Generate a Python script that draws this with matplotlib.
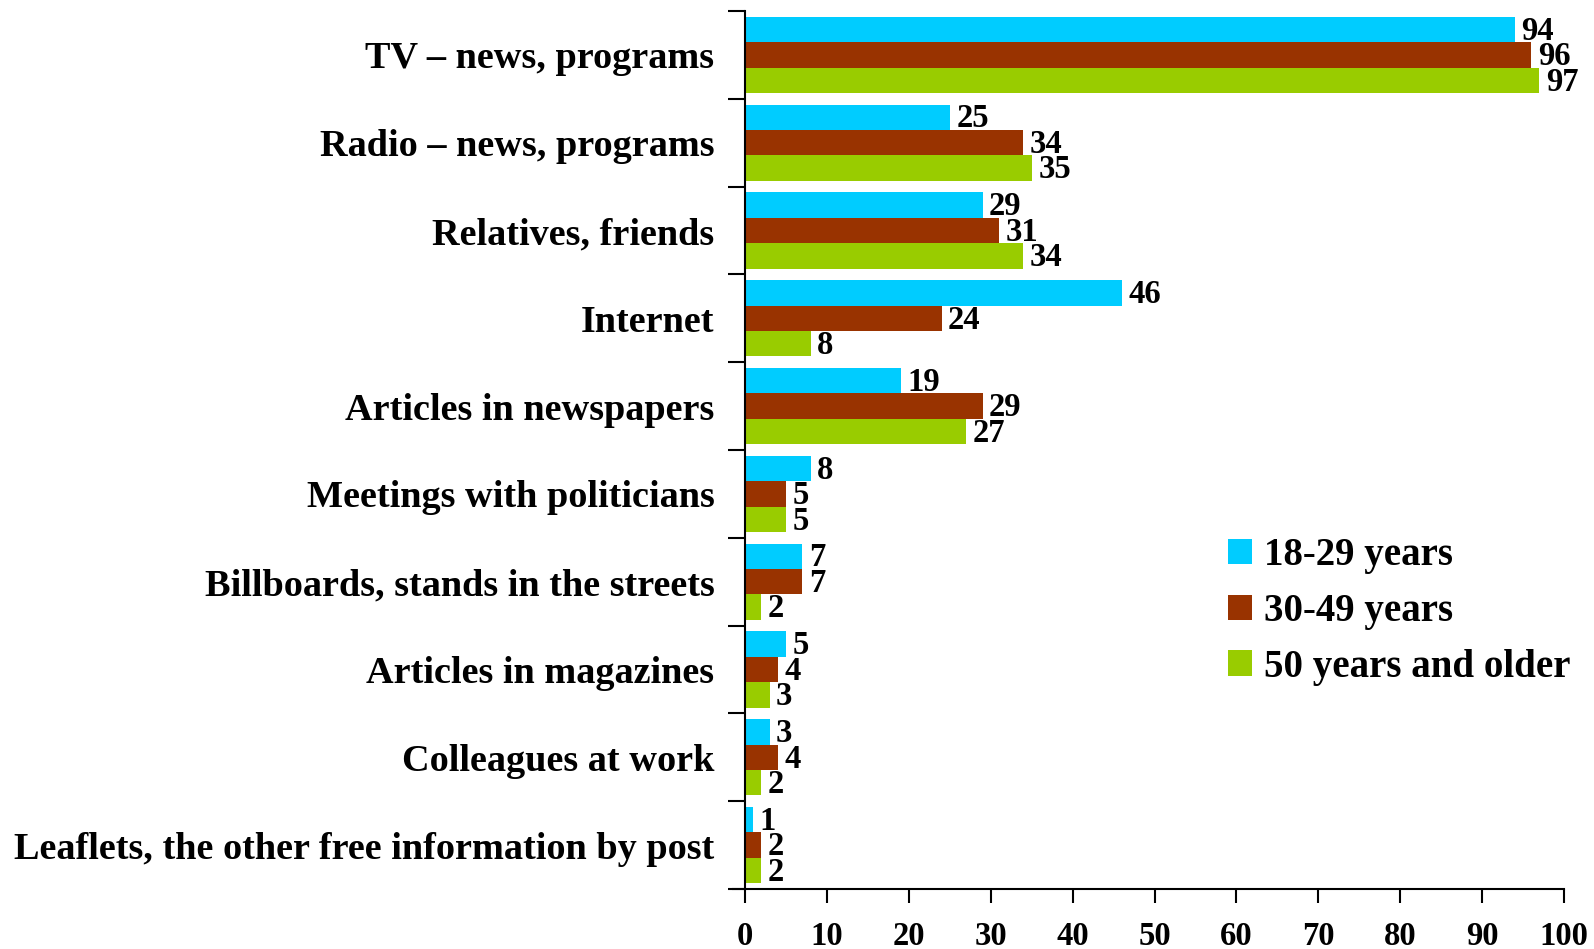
import numpy as np
import matplotlib.pyplot as plt

# ======= Dane =======
categories = [
    "TV \u2013 news, programs",
    "Radio \u2013 news, programs",
    "Relatives, friends",
    "Internet",
    "Articles in newspapers",
    "Meetings with politicians",
    "Billboards, stands in the streets",
    "Articles in magazines",
    "Colleagues at work",
    "Leaflets, the other free information by post",
]
age_18_29 = [94, 25, 29, 46, 19, 8, 7, 5, 3, 1]
age_30_49 = [96, 34, 31, 24, 29, 5, 7, 4, 4, 2]
age_50_up = [97, 35, 34, 8, 27, 5, 2, 3, 2, 2]
series_labels = ["18-29 years", "30-49 years", "50 years and older"]
colors = ["#00CCFF", "#993300", "#99CC00"]

plt.rcParams["font.family"] = ["Liberation Serif", "DejaVu Serif"]
plt.rcParams["font.weight"] = "bold"

fig = plt.figure(figsize=(15.94, 9.49), dpi=100)
ax = fig.add_axes([745 / 1594, 1 - 889 / 949, (1564 - 745) / 1594, (889 - 11) / 949])

n = len(categories)
y = np.arange(n)
h = 0.29
series = [age_18_29, age_30_49, age_50_up]
for i, (vals, lab, col) in enumerate(zip(series, series_labels, colors)):
    pos = y + (i - 1) * h
    ax.barh(pos, vals, height=h, color=col, label=lab, linewidth=0)
    for p, v in zip(pos, vals):
        ax.text(v + 0.8, p + 0.02, str(v), va="center", ha="left",
                fontsize=23.5, fontweight="bold")

ax.set_xlim(0, 100)
ax.set_ylim(n - 0.5, -0.5)
ax.set_xticks(np.arange(0, 101, 10))
ax.tick_params(axis="x", labelsize=23.5, length=10, width=1.5, pad=13)

# etykiety kategorii bez kresek, kreski na granicach
ax.set_yticks(y)
ax.set_yticklabels(categories, fontsize=27.5, fontweight="bold")
ax.tick_params(axis="y", length=0, pad=22)
ax.set_yticks(np.arange(-0.5, n, 1), minor=True)
ax.tick_params(axis="y", which="minor", length=12, width=1.5)

for s in ["top", "right"]:
    ax.spines[s].set_visible(False)
for s in ["left", "bottom"]:
    ax.spines[s].set_linewidth(1.5)
ax.spines["bottom"].set_bounds(-1.5, 100)

leg = ax.legend(loc="center left", bbox_to_anchor=(0.59, 0.316), frameon=False,
                prop={"size": 28, "weight": "bold"}, handlelength=0.62,
                handleheight=0.62, handletextpad=0.3, labelspacing=0.48,
                borderpad=0, borderaxespad=0)

fig.savefig("out.png", dpi=100)
